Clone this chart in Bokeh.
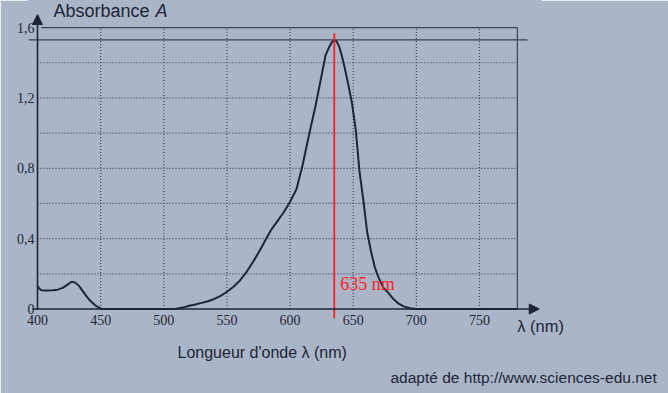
from bokeh.plotting import figure
from bokeh.models import (Range1d, FixedTicker, CustomJSTickFormatter, Label,
                          Arrow, NormalHead, Title)
from bokeh.embed import file_html
from bokeh.resources import INLINE

# ---- data ----
wavelength_nm = [400, 401, 403, 407, 412, 416, 420, 424, 427, 430, 433, 436,
                 439, 442, 445, 448, 451, 460, 480, 500, 510, 515, 520, 525,
                 530, 535, 540, 545, 550, 555, 560, 565, 570, 575, 580, 585,
                 590, 595, 600, 605, 610, 615, 620, 625, 628, 631, 633, 635,
                 637, 639, 641, 643, 646, 649, 652, 655, 658, 661, 664, 667,
                 670, 674, 678, 682, 686, 690, 695, 700, 720, 750, 780]
absorbance = [0.13, 0.12, 0.107, 0.105, 0.107, 0.11, 0.12, 0.14, 0.155, 0.15,
              0.13, 0.10, 0.07, 0.045, 0.025, 0.01, 0.0, 0.0, 0.0, 0.0, 0.002,
              0.008, 0.018, 0.026, 0.035, 0.044, 0.057, 0.075, 0.098, 0.125,
              0.16, 0.205, 0.26, 0.32, 0.385, 0.45, 0.50, 0.55, 0.61, 0.68,
              0.82, 0.99, 1.15, 1.33, 1.44, 1.49, 1.515, 1.53, 1.52, 1.49,
              1.44, 1.38, 1.28, 1.17, 1.02, 0.78, 0.62, 0.44, 0.33, 0.24,
              0.18, 0.12, 0.09, 0.055, 0.03, 0.015, 0.004, 0.0, 0.0, 0.0, 0.0]

x_ticks = [400, 450, 500, 550, 600, 650, 700, 750]
y_ticks = [0, 0.4, 0.8, 1.2, 1.6]
x_grid = [450, 500, 550, 600, 650, 700, 750]
y_grid = [0.2, 0.4, 0.6, 0.8, 1.0, 1.2, 1.4]
x_min, x_box_max, x_arrow_end = 400, 780, 797.3
y_box_max, y_arrow_end = 1.6, 1.674
peak_nm = 635
peak_A = 1.53

BG = "#abb5c8"
INK = "#1d2536"
GRID = "#3c4559"
RED = "#ff1f1f"

p = figure(width=668, height=393,
           x_range=Range1d(392.87, 798.3), y_range=Range1d(-0.054, 1.754),
           output_backend="svg", toolbar_location=None,
           min_border_left=28, min_border_right=128,
           min_border_top=0, min_border_bottom=75)
p.background_fill_color = BG
p.border_fill_color = BG
p.outline_line_color = BG
p.outline_line_width = 2
p.xgrid.grid_line_color = None
p.ygrid.grid_line_color = None

# axes (labels only; axis lines drawn as arrows)
p.xaxis.ticker = FixedTicker(ticks=x_ticks)
p.yaxis.ticker = FixedTicker(ticks=y_ticks)
p.yaxis.formatter = CustomJSTickFormatter(
    code="return tick == 0 ? '0' : tick.toFixed(1).replace('.', ',');")
for ax in (p.xaxis, p.yaxis):
    ax.axis_line_color = None
    ax.major_tick_line_color = None
    ax.minor_tick_line_color = None
    ax.major_tick_out = 0
    ax.major_tick_in = 0
    ax.minor_tick_out = 0
    ax.major_label_text_font = "Liberation Serif"
    ax.major_label_text_font_size = "14px"
    ax.major_label_text_color = INK
p.xaxis.major_label_standoff = -4
p.yaxis.major_label_standoff = -6

p.xaxis.axis_label = "λ (nm)"
p.xaxis.axis_label_align = "end"
p.xaxis.axis_label_standoff = -11
p.xaxis.axis_label_text_font = "Liberation Sans"
p.xaxis.axis_label_text_font_style = "normal"
p.xaxis.axis_label_text_font_size = "16.5px"
p.xaxis.axis_label_text_color = INK

p.add_layout(Title(text="Longueur  d'onde λ (nm)", align="left", offset=149,
                   text_font="Liberation Sans", text_font_style="normal",
                   text_font_size="16px", text_color=INK, standoff=8), "below")
p.add_layout(Title(text="adapté de http://www.sciences-edu.net", align="left",
                   offset=362, text_font="Liberation Sans",
                   text_font_style="normal", text_font_size="15.5px",
                   text_color=INK, standoff=4), "below")

# dotted grid inside the box
p.segment(x0=x_grid, y0=[0] * len(x_grid), x1=x_grid, y1=[y_box_max] * len(x_grid),
          line_color=GRID, line_dash="1 2", line_width=1.2)
p.segment(x0=[x_min] * len(y_grid), y0=y_grid, x1=[x_box_max] * len(y_grid), y1=y_grid,
          line_color=GRID, line_dash="1 2", line_width=1.2)

# box border (top and right)
p.segment(x0=[x_min + 3, x_box_max], y0=[y_box_max, 0],
          x1=[x_box_max, x_box_max], y1=[y_box_max, y_box_max],
          line_color="#3a4358", line_width=1.2)

# peak level line
p.segment(x0=[392.9], y0=[peak_A], x1=[788], y1=[peak_A],
          line_color="#3a4358", line_width=1.3)

# spectrum
p.line(wavelength_nm, absorbance, line_color=INK, line_width=2)

# red marker line
p.segment(x0=[peak_nm], y0=[-0.054], x1=[peak_nm], y1=[1.566],
          line_color=RED, line_width=1.8)

# axis arrows
p.add_layout(Arrow(x_start=396, y_start=0, x_end=x_arrow_end, y_end=0,
                   line_color=INK, line_width=1.6,
                   end=NormalHead(size=10, fill_color=INK, line_color=INK)))
p.add_layout(Arrow(x_start=x_min, y_start=-0.005, x_end=x_min, y_end=y_arrow_end,
                   line_color=INK, line_width=1.6,
                   end=NormalHead(size=10, fill_color=INK, line_color=INK)))

# texts inside the frame
p.add_layout(Label(x=peak_nm, y=0.14, x_offset=6, text="635 nm",
                   text_color=RED, text_font="Liberation Serif",
                   text_font_size="18px", text_baseline="alphabetic"))
p.add_layout(Label(x=412.7, y=1.696, text="Absorbance",
                   text_font="Liberation Sans", text_font_size="18px",
                   text_color=INK, text_baseline="alphabetic"))
p.add_layout(Label(x=493.4, y=1.696, text="A", text_font="Liberation Sans",
                   text_font_style="italic", text_font_size="18px",
                   text_color=INK, text_baseline="alphabetic"))

open("out.html", "w").write(file_html(p, INLINE))
